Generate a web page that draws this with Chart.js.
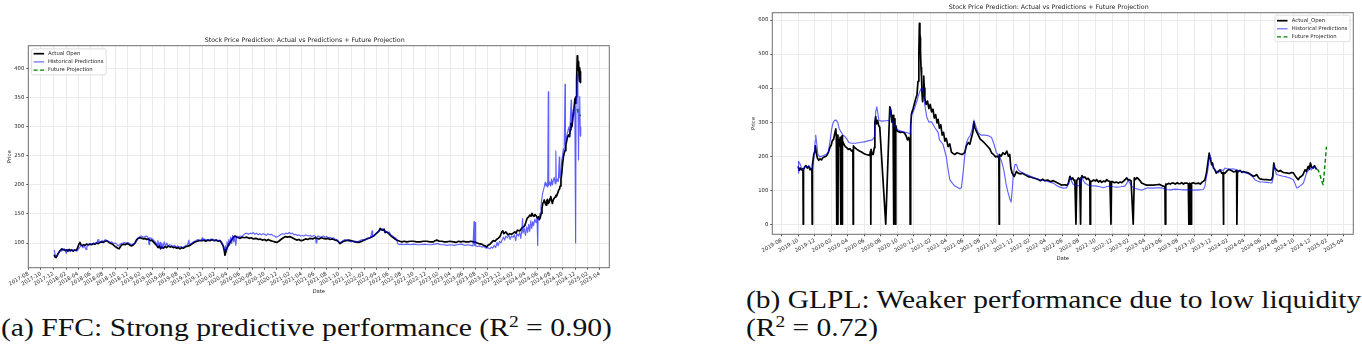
<!DOCTYPE html>
<html><head><meta charset="utf-8">
<script src="https://cdn.jsdelivr.net/npm/chart.js@4.4.1/dist/chart.umd.min.js"></script>
<style>
html,body{margin:0;padding:0;background:#fff;width:1362px;height:348px;overflow:hidden;position:relative}
#c1{position:absolute;left:0;top:0}
#c2{position:absolute;left:690px;top:0}
.cap{position:absolute;font-family:'Liberation Serif','Times New Roman',serif;font-size:24.5px;line-height:28px;white-space:nowrap;transform-origin:0 0;color:#111}
.cap sup{font-size:0.66em;line-height:0;vertical-align:0.55em}
</style></head>
<body>
<canvas id="c1" width="680" height="300"></canvas>
<canvas id="c2" width="672" height="270"></canvas>
<div class="cap" id="capA" style="left:1px;top:314px">(a) FFC: Strong predictive performance (R<sup>2</sup> = 0.90)</div>
<div class="cap" id="capB1" style="left:746px;top:286px">(b) GLPL: Weaker performance due to low liquidity</div>
<div class="cap" id="capB2" style="left:746px;top:314px">(R<sup>2</sup> = 0.72)</div>
<script>
// ---------------- DATA ----------------
const chartTitle = 'Stock Price Prediction: Actual vs Predictions + Future Projection';

const ffcTicks = ['2017-08','2017-10','2017-12','2018-02','2018-04','2018-06','2018-08','2018-10','2018-12','2019-02','2019-04','2019-06','2019-08','2019-10','2019-12','2020-02','2020-04','2020-06','2020-08','2020-10','2020-12','2021-02','2021-04','2021-06','2021-08','2021-10','2021-12','2022-02','2022-04','2022-06','2022-08','2022-10','2022-12','2023-02','2023-04','2023-06','2023-08','2023-10','2023-12','2024-02','2024-04','2024-06','2024-08','2024-10','2024-12','2025-02','2025-04'];
const ffcYTicks = [100,150,200,250,300,350,400];

const ffcActualDates = ['2017-12-05','2017-12-09','2017-12-14','2017-12-19','2017-12-25','2018-01-01','2018-01-06','2018-01-11','2018-01-17','2018-01-23','2018-01-29','2018-02-04','2018-02-10','2018-02-16','2018-02-22','2018-02-28','2018-03-08','2018-03-15','2018-03-22','2018-03-28','2018-04-02','2018-04-06','2018-04-10','2018-04-15','2018-04-21','2018-04-27','2018-05-05','2018-05-12','2018-05-20','2018-05-29','2018-06-06','2018-06-14','2018-06-22','2018-07-01','2018-07-09','2018-07-17','2018-07-26','2018-08-03','2018-08-11','2018-08-19','2018-08-27','2018-09-04','2018-09-12','2018-09-20','2018-09-29','2018-10-05','2018-10-12','2018-10-19','2018-10-26','2018-11-02','2018-11-09','2018-11-18','2018-11-26','2018-12-04','2018-12-12','2018-12-20','2018-12-28','2019-01-05','2019-01-12','2019-01-20','2019-01-30','2019-02-08','2019-02-17','2019-02-24','2019-03-03','2019-03-12','2019-03-21','2019-03-28','2019-04-05','2019-04-13','2019-04-21','2019-04-28','2019-05-05','2019-05-10','2019-05-16','2019-05-24','2019-06-01','2019-06-09','2019-06-18','2019-06-26','2019-07-04','2019-07-12','2019-07-20','2019-07-28','2019-08-06','2019-08-14','2019-08-22','2019-08-30','2019-09-07','2019-09-15','2019-09-24','2019-10-02','2019-10-10','2019-10-18','2019-10-27','2019-11-05','2019-11-15','2019-11-28','2019-12-08','2019-12-18','2019-12-28','2020-01-08','2020-01-18','2020-01-28','2020-02-07','2020-02-17','2020-02-26','2020-03-05','2020-03-12','2020-03-17','2020-03-21','2020-03-25','2020-03-29','2020-04-06','2020-04-15','2020-04-24','2020-05-02','2020-05-09','2020-05-18','2020-05-27','2020-06-03','2020-06-14','2020-06-24','2020-07-06','2020-07-17','2020-07-28','2020-08-07','2020-08-20','2020-09-01','2020-09-09','2020-09-20','2020-10-01','2020-10-10','2020-10-19','2020-10-30','2020-11-10','2020-11-20','2020-11-30','2020-12-10','2020-12-20','2021-01-01','2021-01-12','2021-01-22','2021-02-03','2021-02-14','2021-02-25','2021-03-08','2021-03-18','2021-03-29','2021-04-09','2021-04-20','2021-05-01','2021-05-12','2021-05-25','2021-06-05','2021-06-14','2021-06-26','2021-07-06','2021-07-16','2021-07-28','2021-08-07','2021-08-18','2021-08-30','2021-09-12','2021-09-24','2021-10-06','2021-10-14','2021-10-23','2021-11-04','2021-11-16','2021-11-28','2021-12-11','2021-12-22','2022-01-04','2022-01-13','2022-01-21','2022-02-02','2022-02-14','2022-03-03','2022-03-19','2022-04-04','2022-04-14','2022-04-21','2022-04-27','2022-05-04','2022-05-10','2022-05-15','2022-05-24','2022-05-31','2022-06-08','2022-06-17','2022-06-25','2022-07-03','2022-07-11','2022-07-19','2022-07-27','2022-08-05','2022-08-17','2022-08-29','2022-09-15','2022-10-01','2022-10-17','2022-11-03','2022-11-19','2022-12-05','2022-12-21','2023-01-07','2023-01-15','2023-01-23','2023-02-05','2023-02-17','2023-03-01','2023-03-13','2023-03-28','2023-04-15','2023-04-28','2023-05-10','2023-05-22','2023-06-03','2023-06-15','2023-06-28','2023-07-10','2023-07-22','2023-08-03','2023-08-16','2023-09-01','2023-09-09','2023-09-17','2023-09-25','2023-10-01','2023-10-11','2023-10-19','2023-10-27','2023-11-05','2023-11-12','2023-11-20','2023-11-29','2023-12-08','2023-12-13','2023-12-18','2023-12-28','2024-01-08','2024-01-16','2024-01-25','2024-02-02','2024-02-10','2024-02-16','2024-02-22','2024-03-06','2024-03-12','2024-03-19','2024-03-25','2024-03-31','2024-04-05','2024-04-11','2024-04-18','2024-04-24','2024-04-29','2024-05-04','2024-05-09','2024-05-14','2024-05-19','2024-05-24','2024-06-01','2024-06-05','2024-06-09','2024-06-14','2024-06-18','2024-06-22','2024-06-26','2024-06-30','2024-07-03','2024-07-08','2024-07-12','2024-07-15','2024-07-19','2024-07-23','2024-07-27','2024-08-01','2024-08-04','2024-08-08','2024-08-12','2024-08-17','2024-08-21','2024-08-25','2024-08-29','2024-09-02','2024-09-06','2024-09-12','2024-09-16','2024-09-19','2024-09-23','2024-09-27','2024-10-01','2024-10-05','2024-10-09','2024-10-13','2024-10-17','2024-10-22','2024-10-26','2024-10-30','2024-11-04','2024-11-08','2024-11-11','2024-11-16','2024-11-21','2024-11-25','2024-11-27','2024-12-01','2024-12-04','2024-12-06','2024-12-09','2024-12-12','2024-12-14','2024-12-16','2024-12-18','2024-12-19','2024-12-21','2024-12-22','2024-12-24','2024-12-26','2024-12-27','2024-12-29'];
const ffcActual = [80,76,75,78,82,86,88,90,88,89,87,88,86,89,87,88,86,88,87,90,95,99,101,97,95,97,96,98,97,98,97,99,98,100,99,101,102,101,103,104,102,100,99,97,94,93,91,90,94,97,98,97,99,98,96,95,97,100,105,108,109,108,107,108,106,107,104,105,102,99,96,92,95,90,93,91,94,92,95,93,94,92,93,91,92,90,92,91,93,94,95,96,98,100,102,103,104,104,105,103,105,104,106,104,105,103,104,100,95,88,79,84,90,96,101,106,110,112,110,109,108,110,109,110,108,109,107,108,106,107,105,106,104,106,104,103,102,101,103,106,109,111,110,111,109,107,105,106,104,105,107,106,108,107,109,108,107,109,108,107,108,106,107,105,104,99,101,103,104,105,104,103,102,101,102,103,105,107,109,112,117,120,125,123,122,124,118,119,117,114,111,109,107,105,104,103,102,103,102,103,103,102,102,103,103,102,102,104,105,103,103,102,102,103,102,101,103,102,103,102,102,103,102,101,99,98,96,95,93,96,98,101,104,103,106,108,111,119,121,116,119,114,116,115,117,119,117,122,121,124,127,128,131,137,143,145,148,146,151,147,146,149,147,142,145,140,144,151,160,168,171,174,168,165,172,175,168,170,177,180,173,168,175,177,179,182,181,185,191,193,198,210,220,236,248,255,259,268,277,283,286,283,295,306,300,318,328,335,349,340,352,380,422,405,398,412,410,385,378,402,395,380,376];

const ffcPredDates = ['2017-12-05','2017-12-10','2017-12-14','2017-12-20','2017-12-27','2018-01-04','2018-01-10','2018-01-16','2018-01-22','2018-01-28','2018-02-03','2018-02-06','2018-02-14','2018-02-22','2018-03-01','2018-03-10','2018-03-18','2018-03-26','2018-04-04','2018-04-12','2018-04-18','2018-04-25','2018-05-02','2018-05-10','2018-05-14','2018-05-22','2018-05-30','2018-06-08','2018-06-16','2018-06-24','2018-07-02','2018-07-08','2018-07-12','2018-07-20','2018-07-28','2018-08-05','2018-08-12','2018-08-20','2018-08-28','2018-09-05','2018-09-13','2018-09-22','2018-09-30','2018-10-07','2018-10-14','2018-10-22','2018-10-30','2018-11-07','2018-11-15','2018-11-23','2018-12-01','2018-12-10','2018-12-18','2018-12-26','2019-01-04','2019-01-12','2019-01-20','2019-01-28','2019-02-06','2019-02-15','2019-02-22','2019-03-02','2019-03-10','2019-03-15','2019-03-18','2019-03-26','2019-04-03','2019-04-11','2019-04-19','2019-04-24','2019-04-27','2019-05-03','2019-05-08','2019-05-12','2019-05-17','2019-05-22','2019-05-28','2019-06-04','2019-06-10','2019-06-16','2019-06-24','2019-07-02','2019-07-10','2019-07-18','2019-07-26','2019-08-03','2019-08-11','2019-08-19','2019-08-27','2019-09-04','2019-09-12','2019-09-20','2019-09-26','2019-09-29','2019-10-07','2019-10-15','2019-10-23','2019-10-31','2019-11-08','2019-11-16','2019-11-24','2019-12-01','2019-12-04','2019-12-12','2019-12-20','2019-12-28','2020-01-05','2020-01-13','2020-01-21','2020-01-29','2020-02-06','2020-02-14','2020-02-22','2020-03-01','2020-03-08','2020-03-14','2020-03-19','2020-03-23','2020-03-27','2020-03-31','2020-04-04','2020-04-09','2020-04-13','2020-04-18','2020-04-23','2020-04-28','2020-05-03','2020-05-08','2020-05-13','2020-05-18','2020-05-26','2020-06-04','2020-06-12','2020-06-18','2020-06-27','2020-07-06','2020-07-14','2020-07-22','2020-07-30','2020-08-07','2020-08-15','2020-08-23','2020-08-31','2020-09-08','2020-09-16','2020-09-24','2020-10-02','2020-10-10','2020-10-18','2020-10-26','2020-11-03','2020-11-11','2020-11-19','2020-11-27','2020-12-05','2020-12-13','2020-12-21','2020-12-29','2021-01-06','2021-01-14','2021-01-22','2021-01-30','2021-02-07','2021-02-15','2021-02-23','2021-03-03','2021-03-11','2021-03-19','2021-03-27','2021-04-04','2021-04-12','2021-04-20','2021-04-28','2021-05-06','2021-05-14','2021-05-22','2021-05-30','2021-06-07','2021-06-11','2021-06-15','2021-06-23','2021-07-01','2021-07-09','2021-07-17','2021-07-25','2021-08-02','2021-08-10','2021-08-18','2021-08-26','2021-09-03','2021-09-11','2021-09-19','2021-09-27','2021-10-05','2021-10-13','2021-10-21','2021-10-29','2021-11-06','2021-11-14','2021-11-22','2021-11-30','2021-12-08','2021-12-16','2021-12-24','2022-01-01','2022-01-09','2022-01-17','2022-01-25','2022-02-02','2022-02-10','2022-02-18','2022-02-26','2022-03-06','2022-03-12','2022-03-15','2022-03-23','2022-03-31','2022-04-08','2022-04-16','2022-04-24','2022-04-30','2022-05-06','2022-05-12','2022-05-18','2022-05-24','2022-05-30','2022-06-05','2022-06-11','2022-06-17','2022-06-23','2022-06-28','2022-07-08','2022-07-16','2022-07-24','2022-08-03','2022-08-15','2022-08-30','2022-09-15','2022-10-01','2022-10-20','2022-11-05','2022-11-25','2022-12-10','2022-12-28','2023-01-12','2023-01-28','2023-02-10','2023-02-28','2023-03-15','2023-04-01','2023-04-20','2023-05-05','2023-05-25','2023-06-10','2023-06-25','2023-07-10','2023-07-20','2023-07-25','2023-07-27','2023-07-31','2023-08-02','2023-08-12','2023-08-22','2023-09-01','2023-09-12','2023-09-22','2023-10-01','2023-10-10','2023-10-18','2023-10-25','2023-11-01','2023-11-08','2023-11-15','2023-11-20','2023-11-27','2023-12-04','2023-12-10','2023-12-16','2023-12-22','2023-12-28','2024-01-05','2024-01-12','2024-01-18','2024-01-24','2024-02-01','2024-02-08','2024-02-14','2024-02-20','2024-02-27','2024-03-05','2024-03-10','2024-03-15','2024-03-19','2024-03-21','2024-03-27','2024-04-02','2024-04-08','2024-04-13','2024-04-18','2024-04-23','2024-04-28','2024-05-03','2024-05-08','2024-05-12','2024-05-18','2024-05-24','2024-05-29','2024-06-01','2024-06-03','2024-06-08','2024-06-13','2024-06-17','2024-06-21','2024-06-25','2024-06-29','2024-07-03','2024-07-08','2024-07-12','2024-07-16','2024-07-20','2024-07-23','2024-07-25','2024-07-30','2024-08-04','2024-08-08','2024-08-12','2024-08-16','2024-08-21','2024-08-26','2024-08-29','2024-08-31','2024-09-05','2024-09-10','2024-09-15','2024-09-17','2024-09-22','2024-09-27','2024-10-01','2024-10-05','2024-10-09','2024-10-13','2024-10-15','2024-10-20','2024-10-25','2024-10-29','2024-11-02','2024-11-05','2024-11-08','2024-11-12','2024-11-14','2024-11-18','2024-11-22','2024-11-26','2024-11-30','2024-12-04','2024-12-06','2024-12-09','2024-12-12','2024-12-15','2024-12-18','2024-12-21','2024-12-24','2024-12-27','2024-12-29'];
const ffcPred = [88,80,76,79,84,88,86,90,89,87,82,89,88,85,89,87,88,86,90,94,97,92,95,89,94,96,99,98,100,99,101,106,100,102,104,103,106,104,103,101,102,99,100,98,95,97,99,100,101,100,101,99,97,98,99,103,108,111,112,110,111,112,110,97,109,108,106,103,100,94,104,96,101,90,99,92,102,94,100,95,97,96,94,96,93,95,93,94,92,94,96,97,105,97,99,101,103,104,106,105,104,109,105,107,105,106,105,107,106,104,106,104,105,103,99,94,87,95,88,102,93,106,96,110,99,113,102,111,96,112,110,112,111,113,116,117,115,117,116,118,115,117,114,116,114,116,115,113,116,114,115,113,112,110,111,113,115,116,115,117,116,118,116,117,114,115,113,114,112,113,112,114,113,112,113,111,113,112,100,111,112,110,111,112,110,111,109,110,108,109,107,106,103,100,102,104,106,105,104,103,102,103,101,103,102,104,105,106,104,106,109,108,111,121,111,113,116,119,121,122,125,122,120,121,118,116,119,114,113,112,110,108,99,97,98,97,98,97,98,97,97,98,97,97,98,99,97,97,96,97,96,97,98,96,97,96,95,137,96,135,95,94,95,93,94,91,92,90,93,91,96,92,101,95,103,100,106,110,105,112,109,113,106,112,110,114,104,116,112,118,108,121,142,117,125,113,128,118,132,120,138,125,137,130,141,135,143,96,140,144,152,163,176,185,191,196,205,198,203,196,360,199,205,198,210,200,207,213,202,258,205,210,206,248,212,220,243,250,262,258,373,270,282,290,296,300,283,312,346,305,316,330,320,335,100,340,360,390,372,243,330,352,284,300];

const ffcFutureDates = ['2024-12-12','2024-12-15','2024-12-19','2024-12-24','2024-12-29'];
const ffcFuture = [331,325,322,320,319];

const glplTicks = ['2019-08','2019-10','2019-12','2020-02','2020-04','2020-06','2020-08','2020-10','2020-12','2021-02','2021-04','2021-06','2021-08','2021-10','2021-12','2022-02','2022-04','2022-06','2022-08','2022-10','2022-12','2023-02','2023-04','2023-06','2023-08','2023-10','2023-12','2024-02','2024-04','2024-06','2024-08','2024-10','2024-12','2025-02','2025-04'];
const glplYTicks = [0,100,200,300,400,500,600];

const glplActualDates = ['2019-10-01','2019-10-05','2019-10-09','2019-10-13','2019-10-17','2019-10-19','2019-10-20','2019-10-21','2019-10-25','2019-10-30','2019-11-04','2019-11-09','2019-11-14','2019-11-19','2019-11-21','2019-11-22','2019-11-23','2019-11-28','2019-12-02','2019-12-04','2019-12-07','2019-12-11','2019-12-16','2019-12-21','2019-12-26','2019-12-31','2020-01-06','2020-01-12','2020-01-17','2020-01-21','2020-01-26','2020-01-31','2020-02-04','2020-02-09','2020-02-14','2020-02-17','2020-02-19','2020-02-20','2020-02-21','2020-02-24','2020-02-25','2020-02-26','2020-03-01','2020-03-04','2020-03-06','2020-03-07','2020-03-08','2020-03-11','2020-03-12','2020-03-13','2020-03-18','2020-03-23','2020-03-28','2020-04-03','2020-04-09','2020-04-15','2020-04-20','2020-04-21','2020-04-22','2020-04-27','2020-05-05','2020-05-14','2020-05-22','2020-05-30','2020-06-08','2020-06-15','2020-06-21','2020-06-24','2020-06-25','2020-06-26','2020-06-30','2020-07-04','2020-07-08','2020-07-10','2020-07-13','2020-07-16','2020-07-20','2020-07-24','2020-07-28','2020-08-19','2020-09-03','2020-09-07','2020-09-11','2020-09-15','2020-09-17','2020-09-18','2020-09-19','2020-09-22','2020-09-24','2020-09-25','2020-09-29','2020-10-05','2020-10-12','2020-10-20','2020-10-27','2020-11-02','2020-11-07','2020-11-12','2020-11-16','2020-11-17','2020-11-19','2020-11-22','2020-11-28','2020-12-03','2020-12-08','2020-12-12','2020-12-16','2020-12-19','2020-12-21','2020-12-23','2020-12-24','2020-12-25','2020-12-27','2020-12-29','2020-12-31','2021-01-02','2021-01-04','2021-01-06','2021-01-08','2021-01-10','2021-01-15','2021-01-20','2021-01-25','2021-01-30','2021-02-04','2021-02-09','2021-02-14','2021-02-19','2021-02-24','2021-02-28','2021-03-05','2021-03-10','2021-03-15','2021-03-20','2021-03-25','2021-03-30','2021-04-06','2021-04-12','2021-04-18','2021-04-24','2021-05-01','2021-05-08','2021-05-19','2021-05-27','2021-06-06','2021-06-12','2021-06-19','2021-06-25','2021-07-01','2021-07-06','2021-07-10','2021-07-13','2021-07-18','2021-07-26','2021-08-02','2021-08-10','2021-08-19','2021-08-28','2021-09-06','2021-09-13','2021-09-20','2021-09-28','2021-10-04','2021-10-10','2021-10-11','2021-10-12','2021-10-18','2021-10-25','2021-11-01','2021-11-08','2021-11-14','2021-11-19','2021-11-23','2021-11-28','2021-12-05','2021-12-14','2021-12-20','2021-12-28','2022-01-05','2022-01-15','2022-01-26','2022-02-06','2022-02-18','2022-03-02','2022-03-12','2022-03-20','2022-03-28','2022-04-08','2022-04-18','2022-04-28','2022-05-08','2022-05-18','2022-05-28','2022-06-10','2022-06-18','2022-06-23','2022-06-29','2022-07-04','2022-07-09','2022-07-14','2022-07-17','2022-07-21','2022-07-24','2022-07-30','2022-08-04','2022-08-07','2022-08-09','2022-08-12','2022-08-17','2022-08-23','2022-08-29','2022-09-04','2022-09-10','2022-09-11','2022-09-13','2022-09-17','2022-09-24','2022-10-01','2022-10-05','2022-10-12','2022-10-18','2022-10-24','2022-10-31','2022-11-06','2022-11-11','2022-11-17','2022-11-23','2022-11-27','2022-11-29','2022-12-03','2022-12-10','2022-12-17','2022-12-24','2022-12-31','2023-01-06','2023-01-11','2023-01-17','2023-01-24','2023-01-29','2023-02-02','2023-02-09','2023-02-17','2023-02-21','2023-02-26','2023-03-03','2023-03-08','2023-03-14','2023-03-20','2023-03-28','2023-04-07','2023-04-20','2023-05-02','2023-05-14','2023-05-26','2023-06-02','2023-06-08','2023-06-14','2023-06-15','2023-06-17','2023-06-20','2023-06-27','2023-07-04','2023-07-10','2023-07-15','2023-07-22','2023-07-29','2023-08-04','2023-08-08','2023-08-15','2023-08-21','2023-08-27','2023-09-02','2023-09-08','2023-09-10','2023-09-12','2023-09-14','2023-09-16','2023-09-18','2023-09-20','2023-09-27','2023-10-05','2023-10-15','2023-10-22','2023-10-28','2023-11-02','2023-11-08','2023-11-14','2023-11-19','2023-11-24','2023-11-27','2023-11-29','2023-12-03','2023-12-06','2023-12-10','2023-12-15','2023-12-20','2023-12-27','2024-01-03','2024-01-09','2024-01-14','2024-01-15','2024-01-17','2024-01-21','2024-01-28','2024-02-04','2024-02-08','2024-02-15','2024-02-21','2024-02-27','2024-03-04','2024-03-05','2024-03-07','2024-03-10','2024-03-17','2024-03-24','2024-03-28','2024-04-05','2024-04-16','2024-04-25','2024-05-04','2024-05-12','2024-05-17','2024-05-23','2024-05-29','2024-06-08','2024-06-22','2024-07-04','2024-07-11','2024-07-15','2024-07-19','2024-07-23','2024-07-29','2024-08-05','2024-08-12','2024-08-17','2024-08-24','2024-09-04','2024-09-14','2024-09-22','2024-09-29','2024-10-06','2024-10-12','2024-10-17','2024-10-23','2024-10-29','2024-11-04','2024-11-11','2024-11-16','2024-11-23','2024-11-27','2024-12-01','2024-12-05','2024-12-11','2024-12-16','2024-12-20','2024-12-24'];
const glplActual = [170,158,165,160,163,158,0,160,168,172,165,170,160,163,158,0,175,205,215,230,210,195,188,192,189,195,198,200,205,212,225,232,245,250,270,280,258,0,255,262,0,250,230,255,248,0,232,260,0,245,235,228,225,220,222,215,218,0,230,225,220,215,212,208,205,204,202,215,0,220,205,205,225,300,316,295,305,290,285,0,345,335,300,320,310,0,305,310,0,290,275,272,270,271,268,260,248,255,240,0,290,325,340,355,370,380,420,500,590,560,549,510,460,430,380,360,390,435,400,370,352,362,340,352,330,338,312,322,298,308,282,292,262,270,244,252,228,236,212,208,205,210,207,205,210,230,240,235,255,270,301,285,275,262,250,245,238,230,222,210,205,198,200,195,0,205,200,210,205,215,200,205,165,150,140,155,150,148,150,145,140,138,135,132,128,132,128,130,125,128,124,120,115,116,114,121,141,132,136,128,130,0,128,136,132,0,138,143,137,139,132,135,128,0,126,126,130,127,131,124,128,123,127,125,131,127,126,0,125,125,122,124,121,124,122,126,130,136,130,131,128,0,136,132,137,133,128,121,118,115,115,115,116,117,114,112,110,0,118,117,120,118,121,121,118,122,119,119,122,118,121,121,119,0,120,0,118,0,120,122,119,121,118,123,126,130,151,180,209,195,190,175,180,165,160,150,155,160,150,152,0,148,150,156,161,160,157,154,155,158,0,150,155,158,152,155,153,151,146,141,143,146,138,133,132,131,130,131,140,180,165,160,155,158,155,152,151,149,152,151,142,136,131,138,141,146,160,155,170,162,180,168,165,172,166,162];

const glplPredDates = ['2019-10-01','2019-10-03','2019-10-08','2019-10-14','2019-10-20','2019-10-27','2019-11-03','2019-11-10','2019-11-17','2019-11-24','2019-11-29','2019-12-03','2019-12-05','2019-12-09','2019-12-13','2019-12-20','2019-12-28','2020-01-05','2020-01-12','2020-01-20','2020-01-26','2020-02-01','2020-02-06','2020-02-12','2020-02-18','2020-02-24','2020-03-01','2020-03-08','2020-03-15','2020-03-22','2020-03-29','2020-04-05','2020-04-15','2020-04-30','2020-05-15','2020-06-01','2020-06-15','2020-06-30','2020-07-08','2020-07-13','2020-07-17','2020-07-20','2020-07-25','2020-08-05','2020-08-20','2020-09-01','2020-09-04','2020-09-08','2020-09-12','2020-09-20','2020-09-28','2020-10-08','2020-10-20','2020-11-01','2020-11-10','2020-11-17','2020-11-22','2020-11-28','2020-12-05','2020-12-12','2020-12-20','2020-12-27','2021-01-01','2021-01-05','2021-01-10','2021-01-17','2021-01-25','2021-02-04','2021-02-15','2021-02-28','2021-03-05','2021-03-18','2021-03-30','2021-04-06','2021-04-12','2021-04-22','2021-05-01','2021-05-19','2021-05-25','2021-05-31','2021-06-06','2021-06-12','2021-06-19','2021-06-26','2021-07-04','2021-07-10','2021-07-16','2021-07-26','2021-08-05','2021-08-19','2021-09-02','2021-09-13','2021-09-22','2021-10-01','2021-10-11','2021-10-20','2021-10-28','2021-11-05','2021-11-12','2021-11-19','2021-11-24','2021-11-28','2021-12-02','2021-12-08','2021-12-14','2021-12-20','2021-12-28','2022-01-08','2022-01-20','2022-02-01','2022-02-15','2022-03-01','2022-03-15','2022-03-30','2022-04-15','2022-04-30','2022-05-12','2022-05-23','2022-06-05','2022-06-16','2022-06-24','2022-06-29','2022-07-04','2022-07-11','2022-07-23','2022-08-03','2022-08-11','2022-08-16','2022-08-23','2022-09-02','2022-09-11','2022-09-25','2022-10-05','2022-10-18','2022-10-30','2022-11-10','2022-11-23','2022-12-05','2022-12-18','2023-01-02','2023-01-17','2023-01-24','2023-01-29','2023-02-04','2023-02-10','2023-02-23','2023-03-08','2023-03-20','2023-04-01','2023-04-12','2023-04-28','2023-05-14','2023-06-01','2023-06-12','2023-06-20','2023-07-05','2023-07-20','2023-08-08','2023-08-25','2023-09-10','2023-09-27','2023-10-15','2023-11-02','2023-11-08','2023-11-12','2023-11-19','2023-11-26','2023-11-30','2023-12-04','2023-12-09','2023-12-15','2023-12-21','2023-12-27','2024-01-03','2024-01-09','2024-01-15','2024-01-21','2024-01-28','2024-02-08','2024-02-20','2024-03-03','2024-03-15','2024-03-28','2024-04-10','2024-04-22','2024-05-02','2024-05-10','2024-05-20','2024-05-29','2024-06-10','2024-06-22','2024-07-02','2024-07-12','2024-07-16','2024-07-19','2024-07-23','2024-07-29','2024-08-08','2024-08-22','2024-09-04','2024-09-16','2024-09-29','2024-10-05','2024-10-11','2024-10-17','2024-10-23','2024-10-30','2024-11-05','2024-11-11','2024-11-17','2024-11-24','2024-11-30','2024-12-05','2024-12-11','2024-12-18','2024-12-24'];
const glplPred = [150,185,178,165,160,170,168,172,165,163,200,245,262,235,205,198,200,203,205,212,240,275,296,305,306,300,280,270,262,257,250,240,238,238,240,242,245,248,255,330,345,330,305,303,304,305,340,320,298,290,280,275,272,270,268,265,320,330,345,362,385,398,400,385,350,316,300,301,285,270,248,235,199,160,131,120,112,104,108,150,200,238,252,260,280,306,290,268,262,262,260,255,235,210,200,185,160,120,95,75,65,100,145,175,175,160,155,150,146,142,137,133,130,127,124,120,113,109,106,107,118,136,128,117,112,114,139,130,121,116,112,113,112,110,107,110,112,110,109,110,112,120,128,122,112,105,103,100,104,107,106,107,107,104,102,101,103,102,101,101,100,101,102,110,131,160,204,190,175,168,160,155,151,156,160,158,165,163,162,163,160,156,153,150,146,140,131,127,124,124,123,122,121,135,175,160,146,144,141,139,136,131,120,107,108,112,116,121,135,151,158,165,160,170,166,160];

const glplFutureDates = ['2024-12-26','2024-12-30','2025-01-03','2025-01-07','2025-01-11','2025-01-14','2025-01-17','2025-01-20','2025-01-24','2025-01-29'];
const glplFuture = [162,158,150,140,129,121,116,142,180,228];

// ---------------- HELPERS ----------------
function dayNum(s){ return Date.UTC(+s.slice(0,4), +s.slice(5,7)-1, s.length>7 ? +s.slice(8,10) : 1)/864e5; }
function pts(dates, vals){ return dates.map((d,i)=>({x:dayNum(d), y:vals[i]})); }

const F = 'DejaVu Sans';
const small = {family:F, size:5.3};
const txt = '#262626';

const framePlugin = {
  id:'frame',
  afterDatasetsDraw(chart){
    const {ctx, chartArea:a} = chart;
    ctx.save(); ctx.strokeStyle='#6e6e6e'; ctx.lineWidth=1;
    ctx.strokeRect(a.left, a.top, a.right-a.left, a.bottom-a.top);
    ctx.restore();
  }
};
const boxLegend = {
  id:'boxLegend',
  afterDraw(chart, args, o){
    const {ctx, chartArea:a} = chart;
    const w=o.w, h=o.h;
    const x = o.corner==='tr' ? a.right - o.dx - w : a.left + o.dx;
    const y = a.top + o.dy;
    ctx.save();
    ctx.beginPath();
    const r=1.5;
    ctx.moveTo(x+r,y); ctx.lineTo(x+w-r,y); ctx.quadraticCurveTo(x+w,y,x+w,y+r);
    ctx.lineTo(x+w,y+h-r); ctx.quadraticCurveTo(x+w,y+h,x+w-r,y+h);
    ctx.lineTo(x+r,y+h); ctx.quadraticCurveTo(x,y+h,x,y+h-r);
    ctx.lineTo(x,y+r); ctx.quadraticCurveTo(x,y,x+r,y); ctx.closePath();
    ctx.fillStyle='rgba(255,255,255,0.85)'; ctx.fill();
    ctx.strokeStyle='#d6d6d6'; ctx.lineWidth=0.8; ctx.stroke();
    ctx.font = small.size+'px "'+F+'"';
    ctx.textBaseline='middle'; ctx.textAlign='left';
    chart.data.datasets.forEach((ds,i)=>{
      const ly = y + o.first + i*o.step;
      ctx.beginPath();
      ctx.setLineDash(ds.borderDash||[]);
      ctx.strokeStyle = ds.borderColor; ctx.lineWidth = ds.borderWidth;
      ctx.moveTo(x+o.l0, ly); ctx.lineTo(x+o.l1, ly); ctx.stroke();
      ctx.setLineDash([]);
      ctx.fillStyle = txt;
      ctx.fillText(ds.label, x+o.tx, ly);
    });
    ctx.restore();
  }
};

function makeChart(id, cfg){
  const tickDays = cfg.ticks.map(t=>dayNum(t));
  return new Chart(document.getElementById(id), {
    type:'line',
    data:{datasets:[
      {label:cfg.actualLabel, data:pts(cfg.aD,cfg.a), borderColor:'#000', borderWidth:1.7, order:3},
      {label:'Historical Predictions', data:pts(cfg.pD,cfg.p), borderColor:'rgba(0,0,255,0.62)', borderWidth:1.15, order:2},
      {label:'Future Projection', data:pts(cfg.fD,cfg.f), borderColor:'#008000', borderWidth:1.4, borderDash:[4,2.5], order:1}
    ]},
    options:{
      responsive:false, animation:false, devicePixelRatio:1,
      parsing:true, normalized:true,
      elements:{point:{radius:0}, line:{tension:0, borderJoinStyle:'round', borderCapStyle:'butt'}},
      layout:{padding:cfg.pad},
      plugins:{
        legend:{display:false}, tooltip:{enabled:false},
        title:{display:true, text:chartTitle, color:'#222', font:{family:F, size:6.3, weight:'normal'}, padding:{top:0,bottom:1.5}},
        boxLegend:cfg.legend
      },
      scales:{
        x:{type:'linear', min:dayNum(cfg.xmin), max:dayNum(cfg.xmax),
          afterBuildTicks:s=>{ s.ticks = tickDays.map(v=>({value:v})); },
          afterFit:s=>{ s.height = 30; },
          ticks:{autoSkip:false, maxRotation:30, minRotation:30, padding:1, font:small, color:txt,
            callback:(v,i)=>cfg.ticks[i]},
          grid:{color:'#ebebeb', lineWidth:1, tickLength:2, tickColor:'#555', drawTicks:true},
          border:{display:false},
          title:{display:true, text:'Date', font:small, color:txt, padding:{top:0,bottom:2.8}}
        },
        y:{type:'linear', min:cfg.ymin, max:cfg.ymax,
          afterBuildTicks:s=>{ s.ticks = cfg.yticks.map(v=>({value:v})); },
          afterFit:s=>{ s.width = 28.3; },
          ticks:{font:small, color:txt, padding:2},
          grid:{color:'#ebebeb', lineWidth:1, tickLength:2, tickColor:'#555', drawTicks:true},
          border:{display:false},
          title:{display:true, text:'Price', font:small, color:txt, padding:{top:6,bottom:0}}
        }
      }
    },
    plugins:[framePlugin, boxLegend]
  });
}

makeChart('c1', {
  actualLabel:'Actual Open',
  aD:ffcActualDates, a:ffcActual, pD:ffcPredDates, p:ffcPred, fD:ffcFutureDates, f:ffcFuture,
  ticks:ffcTicks, yticks:ffcYTicks,
  xmin:'2017-07-31', xmax:'2025-05-18', ymin:57.5, ymax:439.5,
  pad:{left:0, right:70.7, top:36.64, bottom:2.3},
  legend:{corner:'tl', dx:3.3, dy:3.2, w:74.5, h:26, first:4.8, step:8.2, l0:2, l1:12.5, tx:16.3}
});
makeChart('c2', {
  actualLabel:'Actual_Open',
  aD:glplActualDates, a:glplActual, pD:glplPredDates, p:glplPred, fD:glplFutureDates, f:glplFuture,
  ticks:glplTicks, yticks:glplYTicks,
  xmin:'2019-06-28', xmax:'2025-05-08', ymin:-29.6, ymax:621.6,
  pad:{left:54, right:8.7, top:3.64, bottom:5.7},
  legend:{corner:'tr', dx:3.3, dy:2.5, w:75, h:26.5, first:5.5, step:8.1, l0:2, l1:12.5, tx:16.8}
});

// caption width fitting
function fitCaps(){
  const a = document.getElementById('capA');
  const b1 = document.getElementById('capB1');
  const b2 = document.getElementById('capB2');
  [a,b1,b2].forEach(e=>e.style.transform='none');
  const sa = 611 / a.offsetWidth;
  const sb = 615 / b1.offsetWidth;
  a.style.transform = 'scaleX('+sa+')';
  b1.style.transform = 'scaleX('+sb+')';
  b2.style.transform = 'scaleX('+sb+')';
}
fitCaps();
if (document.fonts && document.fonts.ready) document.fonts.ready.then(fitCaps);
</script>
</body></html>
